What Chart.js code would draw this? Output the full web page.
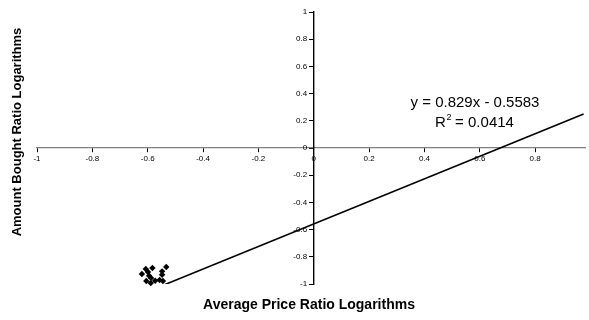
<!DOCTYPE html>
<html>
<head>
<meta charset="utf-8">
<script src="https://cdn.jsdelivr.net/npm/chart.js@4/dist/chart.umd.min.js"></script>
<style>
  html, body { margin: 0; padding: 0; background: #fff; }
  #wrap { position: relative; width: 589px; height: 320px; }
</style>
</head>
<body>
<div id="wrap"><canvas id="c"></canvas></div>
<script>
// Log of average price ratio (x) and log of amount bought ratio (y)
const priceLog  = [-0.621, -0.607, -0.583, -0.595, -0.605, -0.589, -0.573, -0.533, -0.548, -0.548, -0.557, -0.545, -0.599, -0.588];
const boughtLog = [-0.926, -0.890, -0.882, -0.939, -0.978, -0.993, -0.976, -0.875, -0.907, -0.932, -0.971, -0.978, -0.912, -0.956];

// Least-squares trend line
const trendSlope = 0.829;
const trendIntercept = -0.5583;
const trendR2 = 0.0414;
const trendRange = [-0.62, 0.975];

// Axis ticks
const xTicks = [-1, -0.8, -0.6, -0.4, -0.2, 0, 0.2, 0.4, 0.6, 0.8];
const xTickLabels = ['-1', '-0.8', '-0.6', '-0.4', '-0.2', '0', '0.2', '0.4', '0.6', '0.8'];
const yTicks = [-1, -0.8, -0.6, -0.4, -0.2, 0, 0.2, 0.4, 0.6, 0.8, 1];
const yTickLabels = ['-1', '-0.8', '-0.6', '-0.4', '-0.2', '0', '0.2', '0.4', '0.6', '0.8', '1'];

const xTitle = 'Average Price Ratio Logarithms';
const yTitle = 'Amount Bought Ratio Logarithms';

const points = priceLog.map((x, i) => ({ x: x, y: boughtLog[i] }));
const trendPoints = trendRange.map(x => ({ x: x, y: trendSlope * x + trendIntercept }));

const FONT = 'Arial, "Liberation Sans", sans-serif';

const textPlugin = {
  id: 'textPlugin',
  afterDraw(chart) {
    const ctx = chart.ctx;
    ctx.save();
    ctx.fillStyle = '#000';
    // axis titles
    ctx.font = 'bold 14px ' + FONT;
    ctx.textAlign = 'center';
    ctx.textBaseline = 'alphabetic';
    ctx.fillText(xTitle, 309, 309);
    ctx.save();
    ctx.translate(21, 132);
    ctx.rotate(-Math.PI / 2);
    ctx.font = 'bold 13px ' + FONT;
    ctx.fillText(yTitle, 0, 0);
    ctx.restore();

    // trend equation
    const sign = trendIntercept < 0 ? ' - ' : ' + ';
    const eq = 'y = ' + trendSlope + 'x' + sign + Math.abs(trendIntercept);
    ctx.font = '15px ' + FONT;
    ctx.textAlign = 'center';
    ctx.fillText(eq, 475, 107);

    // R² line with a superscript
    const a = 'R', b = '2', c = ' = ' + trendR2;
    ctx.font = '15px ' + FONT;
    const wa = ctx.measureText(a).width, wc = ctx.measureText(c).width;
    ctx.font = '9px ' + FONT;
    const wb = ctx.measureText(b).width;
    const x0 = 474.5 - (wa + wb + wc) / 2;
    ctx.textAlign = 'left';
    ctx.font = '15px ' + FONT;
    ctx.fillText(a, x0, 127);
    ctx.font = '9px ' + FONT;
    ctx.fillText(b, x0 + wa + 0.5, 120);
    ctx.font = '15px ' + FONT;
    ctx.fillText(c, x0 + wa + wb, 127);
    ctx.restore();
  }
};

new Chart(document.getElementById('c'), {
  type: 'scatter',
  data: {
    datasets: [
      {
        type: 'line',
        data: trendPoints,
        borderColor: '#000',
        borderWidth: 1.6,
        pointRadius: 0,
        fill: false,
        clip: 0,
        order: 2
      },
      {
        data: points,
        pointStyle: 'rectRot',
        pointRadius: 3.2,
        backgroundColor: '#000',
        borderColor: '#000',
        borderWidth: 0,
        clip: false,
        order: 1
      }
    ]
  },
  options: {
    responsive: true,
    maintainAspectRatio: false,
    animation: false,
    layout: { padding: { left: 37, right: 0, top: 12, bottom: 36 } },
    plugins: { legend: { display: false }, tooltip: { enabled: false } },
    scales: {
      x: {
        type: 'linear',
        position: { y: 0 },
        min: -1,
        max: 0.98,
        afterBuildTicks: s => { s.ticks = xTicks.map(v => ({ value: v })); },
        ticks: {
          font: { family: FONT, size: 8 }, color: '#000', padding: 2, maxRotation: 0, autoSkip: false,
          callback: (v, i) => xTickLabels[i]
        },
        grid: { display: true, drawOnChartArea: false, drawTicks: true, tickLength: 4, tickColor: '#000' },
        border: { display: true, color: '#808080', width: 1.2 }
      },
      y: {
        type: 'linear',
        position: { x: 0 },
        min: -1,
        max: 1,
        afterBuildTicks: s => { s.ticks = yTicks.map(v => ({ value: v })); },
        ticks: {
          font: { family: FONT, size: 8 }, color: '#000', autoSkip: false,
          // labels of a centred axis sit right-aligned on the axis line; keep a gap
          callback: (v, i) => yTickLabels[i] + '   '
        },
        grid: { display: true, drawOnChartArea: false, drawTicks: true, tickLength: 4, tickColor: '#000' },
        border: { display: true, color: '#000', width: 1.4 }
      }
    }
  },
  plugins: [textPlugin]
});
</script>
</body>
</html>
